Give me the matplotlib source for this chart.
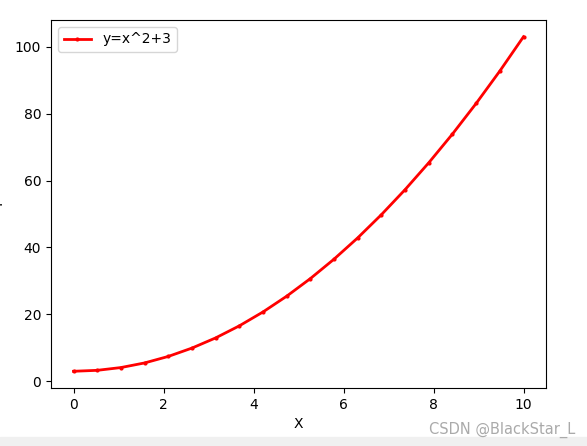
import matplotlib
matplotlib.use("Agg")
import matplotlib.pyplot as plt
from matplotlib.patches import Rectangle

x_vals = [0.0, 0.526, 1.053, 1.579, 2.105, 2.632, 3.158, 3.684, 4.211, 4.737,
          5.263, 5.789, 6.316, 6.842, 7.368, 7.895, 8.421, 8.947, 9.474, 10.0]
y_vals = [3.0, 3.28, 4.11, 5.49, 7.43, 9.93, 12.97, 16.57, 20.73, 25.44,
          30.70, 36.51, 42.88, 49.81, 57.29, 65.33, 73.91, 83.05, 92.75, 103.0]
series_label = "y=x^2+3"
x_label = "X"
y_label = "Y"

fig = plt.figure(figsize=(5.87, 4.46), dpi=100)
ax = fig.add_axes([51/587, 1 - 388/446, (546-51)/587, (388-20)/446])
ax.plot(x_vals, y_vals, color="red", linewidth=2, marker=".", markersize=4, label=series_label)
ax.set_xlabel(x_label)
ax.legend(loc="upper left")
fig.text(-0.013, 1 - 205/446, y_label, rotation=90, ha="left", va="center", fontsize=10)
fig.patches.append(Rectangle((0, 0), 1, 9/446, transform=fig.transFigure, color="#f0f0f0", zorder=-1))
fig.text(575/587, 1 - 430/446, "CSDN @BlackStar_L", color="#aaaaaa", ha="right", va="center", fontsize=10.5)
fig.savefig("out.png", dpi=100)
